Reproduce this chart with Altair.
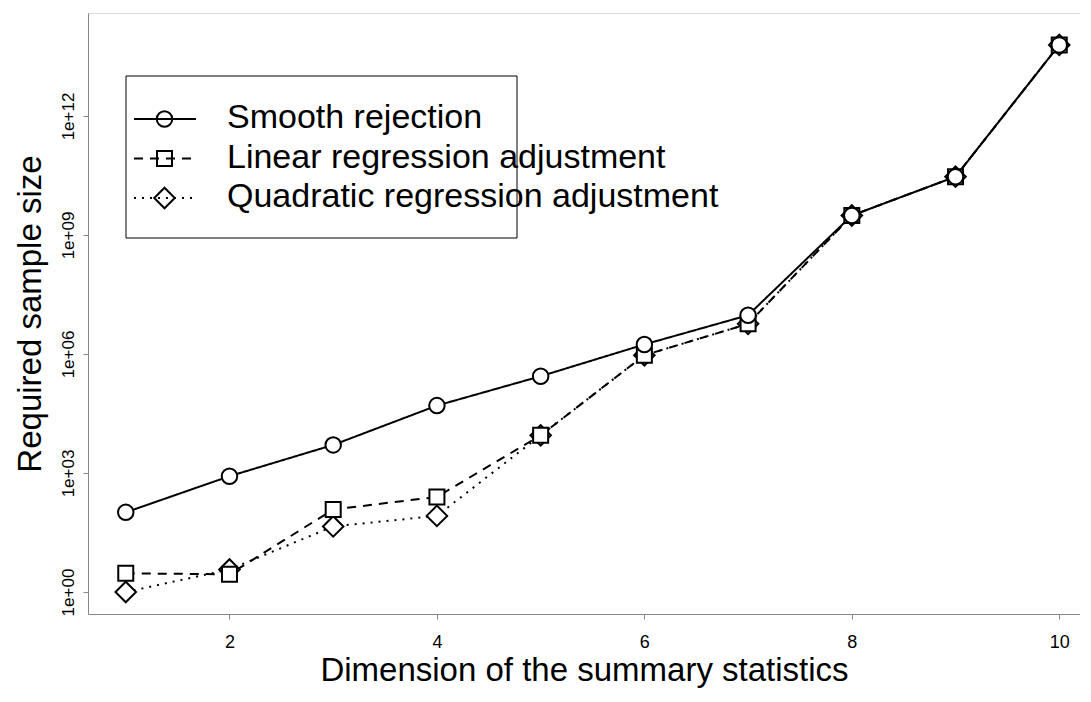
import altair as alt
import pandas as pd

# ---- data ----
DIMS = [1, 2, 3, 4, 5, 6, 7, 8, 9, 10]
SMOOTH = [102, 830, 5100, 50000, 275000, 1.74e6, 9.5e6, 3.1e9, 2.95e10, 6.2e13]
LINEAR = [2.95, 2.8, 120, 250, 8900, 9.3e5, 5.75e6, 3.1e9, 2.95e10, 6.2e13]
QUADRATIC = [1.0, 3.7, 45, 83, 8900, 9.3e5, 5.75e6, 3.1e9, 2.95e10, 6.2e13]
SERIES = ["Smooth rejection", "Linear regression adjustment", "Quadratic regression adjustment"]
XTICKS = [2, 4, 6, 8, 10]
YTICKS = [1, 1e3, 1e6, 1e9, 1e12]
YLABELS = ["1e+00", "1e+03", "1e+06", "1e+09", "1e+12"]
XTITLE = "Dimension of the summary statistics"
YTITLE = "Required sample size"

FONT = "Liberation Sans"
DIAMOND = "M-1,0L0,-1L1,0L0,1Z"
DASHES = [[1, 0], [9, 7], [2, 6]]
SHAPES = ["circle", "square", DIAMOND]
SIZES = [240, 225, 420]

VALUES = [SMOOTH, LINEAR, QUADRATIC]

rows = []
for name, vals in zip(SERIES, VALUES):
    for d, v in zip(DIMS, vals):
        rows.append({"dim": d, "value": v, "series": name})
df = pd.DataFrame(rows)

# label expression built from tick lists
expr = "''"
for t, l in reversed(list(zip(YTICKS, YLABELS))):
    expr = f"(datum.value > {t/10} && datum.value < {t*10}) ? '{l}' : " + expr

W, H = 992, 601
xscale = alt.Scale(domain=[0.636, 10.2], nice=False, zero=False)
yscale = alt.Scale(type="log", domain=[0.2789, 3.945e14], nice=False)

xaxis = alt.Axis(values=XTICKS, title=XTITLE, format="d", labelFontSize=18, labelPadding=14,
                 titleFontSize=33, titlePadding=3, grid=False, titleFontWeight="normal")
yaxis = alt.Axis(values=YTICKS, title=YTITLE, labelExpr=expr, labelAngle=-90, labelAlign="center",
                 labelBaseline="alphabetic", labelFontSize=17, labelPadding=10,
                 titleFontSize=33, titlePadding=12, grid=False, titleFontWeight="normal")

sd = alt.StrokeDash("series:N", scale=alt.Scale(domain=SERIES, range=DASHES), legend=None)

lines = alt.Chart(df).mark_line(color="black", strokeWidth=2).encode(
    x=alt.X("dim:Q", scale=xscale, axis=xaxis),
    y=alt.Y("value:Q", scale=yscale, axis=yaxis),
    strokeDash=sd,
    detail="series:N",
)

# points: quadratic first, smooth (circles) on top
point_layers = []
for i in [2, 1, 0]:
    sub = df[df["series"] == SERIES[i]]
    point_layers.append(
        alt.Chart(sub).mark_point(shape=SHAPES[i], size=SIZES[i], fill="white", fillOpacity=1,
                                  stroke="black", strokeWidth=2, opacity=1).encode(
            x=alt.X("dim:Q", scale=xscale),
            y=alt.Y("value:Q", scale=yscale),
        )
    )

# ---- hand-drawn legend box (R style) ----
leg_df = pd.DataFrame({"a": [0]})
legend_layers = [
    alt.Chart(leg_df).mark_rect(fill="white", stroke="black", strokeWidth=1).encode(
        x=alt.value(38), x2=alt.value(429), y=alt.value(63), y2=alt.value(225)
    )
]
row_y = [106.0, 145.5, 185.0]
for i, name in enumerate(SERIES):
    d = pd.DataFrame({"label": [name]})
    legend_layers.append(
        alt.Chart(d).mark_rule(color="black", strokeWidth=2, strokeDash=DASHES[i]).encode(
            x=alt.value(46), x2=alt.value(108), y=alt.value(row_y[i])
        )
    )
    legend_layers.append(
        alt.Chart(d).mark_point(shape=SHAPES[i], size=SIZES[i], filled=False, color="black",
                                strokeWidth=2, opacity=1).encode(
            x=alt.value(76.5), y=alt.value(row_y[i])
        )
    )
    legend_layers.append(
        alt.Chart(d).mark_text(align="left", baseline="middle", font=FONT, fontSize=34, color="black").encode(
            x=alt.value(139), y=alt.value(row_y[i] - 1), text="label:N"
        )
    )

chart = alt.layer(lines, *point_layers, *legend_layers).properties(
    width=W, height=H,
    autosize=alt.AutoSizeParams(type="none"),
    padding={"left": 80, "top": 5, "right": 0, "bottom": 80},
).configure_view(
    stroke="black", strokeWidth=1
).configure_axis(
    domain=False, grid=False, tickColor="black", tickSize=10, tickWidth=1,
    labelColor="black", titleColor="black", labelFont=FONT, titleFont=FONT,
    titleFontWeight="normal",
).configure(background="white")

chart.save("out.html", embed_options={"renderer": "svg", "actions": False})
